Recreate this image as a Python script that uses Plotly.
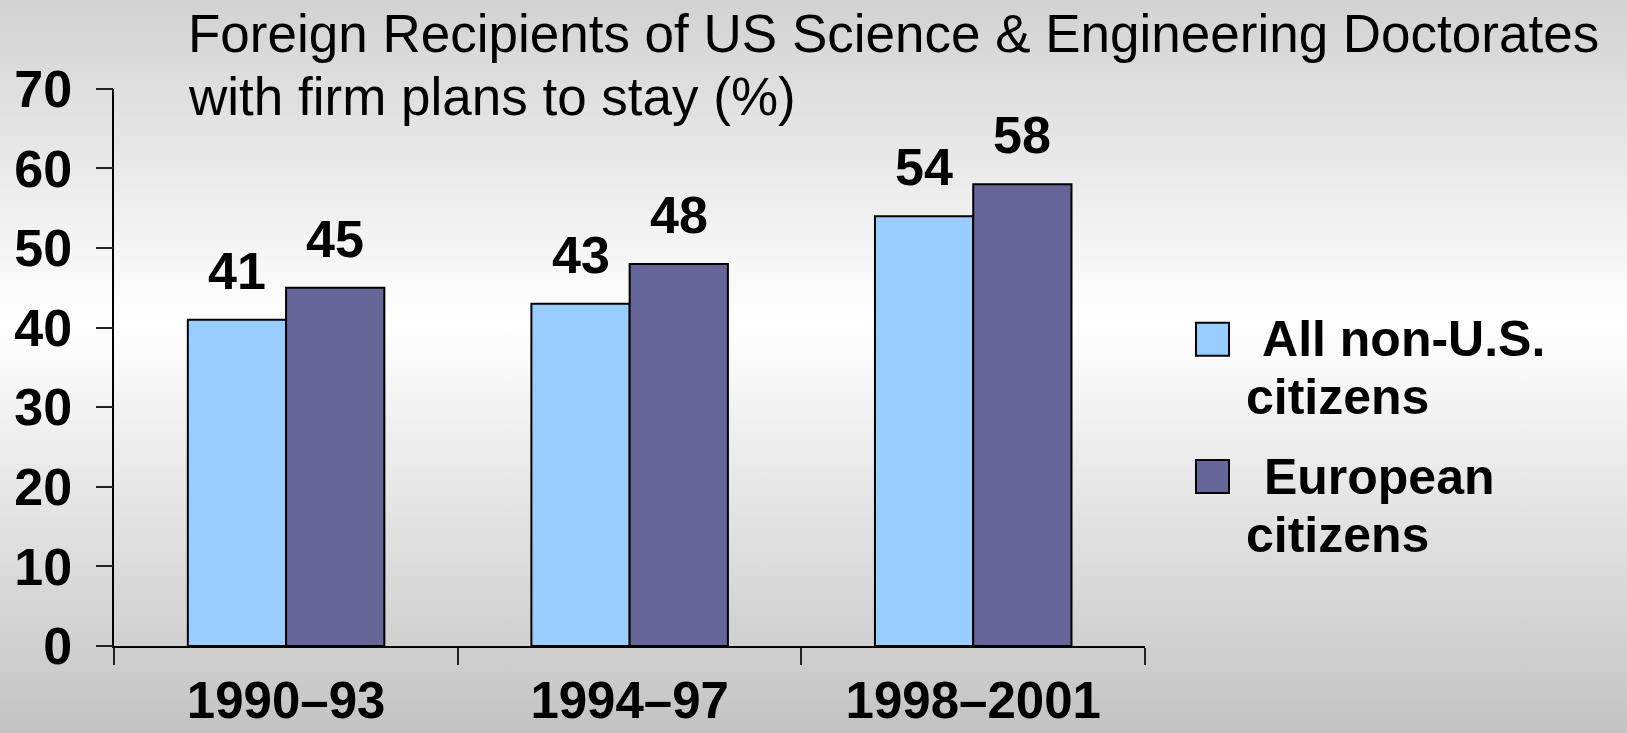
import base64
import plotly.graph_objects as go

# ---- data ----
periods = ["1990–93", "1994–97", "1998–2001"]
series_names = ["All non-U.S. citizens", "European citizens"]
all_non_us = [41, 43, 54]
european = [45, 48, 58]
y_ticks = [0, 10, 20, 30, 40, 50, 60, 70]
title_lines = [
    "Foreign Recipients of US Science & Engineering Doctorates",
    "with firm plans to stay (%)",
]
legend_lines = [[" All non-U.S.", "citizens"], [" European", "citizens"]]

# ---- styling ----
W, H = 1627, 733
colors = ["#99CCFF", "#666699"]
FONT = "Liberation Sans, Arial, sans-serif"
BARGAP = 0.428


def px(x):
    return x / W


def py(y):
    return 1 - y / H


fig = go.Figure()
for name, vals, col in zip(series_names, [all_non_us, european], colors):
    fig.add_trace(go.Bar(
        x=periods, y=vals, name=name, showlegend=False,
        marker=dict(color=col, line=dict(color="black", width=2)),
        hoverinfo="x+y+name",
    ))

# value labels above the bars
half = (1 - BARGAP) / 4
annotations = []
for k, vals in enumerate([all_non_us, european]):
    off = -half if k == 0 else half
    for i, v in enumerate(vals):
        annotations.append(dict(
            x=i + off, y=v, xref="x", yref="y", text=str(v), showarrow=False,
            xanchor="center", yanchor="bottom", yshift=18,
            font=dict(family=FONT, size=52, color="black", weight="bold"),
        ))

# two-line heading
for line, base in zip(title_lines, [52.3, 115.0]):
    annotations.append(dict(
        x=px(186), y=py(base - 0.3465 * 53), xref="paper", yref="paper",
        text=line, showarrow=False, xanchor="left", yanchor="middle",
        font=dict(family=FONT, size=53, color="black"),
    ))

# legend: swatches and wrapped labels
shapes = []
swatch_tops = [322.7, 460.0]
line_bases = [[356, 414], [494, 552]]
for col, top, lines, bases in zip(colors, swatch_tops, legend_lines, line_bases):
    shapes.append(dict(
        type="rect", xref="paper", yref="paper",
        x0=px(1196), x1=px(1229), y0=py(top + 33), y1=py(top),
        fillcolor=col, line=dict(color="black", width=2),
    ))
    for j, (txt, b) in enumerate(zip(lines, bases)):
        annotations.append(dict(
            x=px(1248 if j == 0 else 1244), y=py(b - 0.3465 * 50),
            xref="paper", yref="paper", text=txt, showarrow=False,
            xanchor="left", yanchor="middle",
            font=dict(family=FONT, size=50, color="black", weight="bold"),
        ))

# soft vertical gradient behind everything
svg = (
    f'<svg xmlns="http://www.w3.org/2000/svg" width="{W}" height="{H}" '
    f'viewBox="0 0 {W} {H}" preserveAspectRatio="none">'
    '<defs><linearGradient id="g" x1="0" y1="0" x2="0" y2="1">'
    '<stop offset="0" stop-color="#d2d2d2"/>'
    '<stop offset="0.44" stop-color="#ffffff"/>'
    '<stop offset="1" stop-color="#c3c3c3"/>'
    '</linearGradient></defs>'
    f'<rect x="0" y="0" width="{W}" height="{H}" fill="url(#g)"/></svg>'
)
bg_uri = "data:image/svg+xml;base64," + base64.b64encode(svg.encode()).decode()

tick_font = dict(family=FONT, size=52, color="black", weight="bold")
fig.update_layout(
    width=W, height=H, autosize=False,
    margin=dict(l=0, r=0, t=0, b=0, autoexpand=False),
    paper_bgcolor="#e8e8e8", plot_bgcolor="rgba(0,0,0,0)",
    barmode="group", bargap=BARGAP, bargroupgap=0,
    images=[dict(source=bg_uri, xref="paper", yref="paper", x=0, y=1,
                 sizex=1, sizey=1, sizing="stretch", layer="below",
                 xanchor="left", yanchor="top")],
    xaxis=dict(
        domain=[px(114.3), px(1145)], type="category", automargin=False,
        showline=True, linecolor="black", linewidth=1.5,
        ticks="outside", tickson="boundaries", ticklen=17,
        tickcolor="#222", tickwidth=1.5,
        tickfont=dict(family=FONT, size=51, color="black", weight="bold"),
        showgrid=False, zeroline=False, ticklabelstandoff=9,
    ),
    yaxis=dict(
        domain=[py(646), py(88.8)], range=[0, 70], automargin=False,
        tickvals=y_ticks, ticks="outside", ticklen=17,
        tickcolor="#222", tickwidth=1.5, tickfont=tick_font,
        showline=True, linecolor="black", linewidth=1.5,
        showgrid=False, zeroline=False, ticklabelstandoff=13,
    ),
    annotations=annotations, shapes=shapes,
    showlegend=False,
)

fig.write_html("out.html")
